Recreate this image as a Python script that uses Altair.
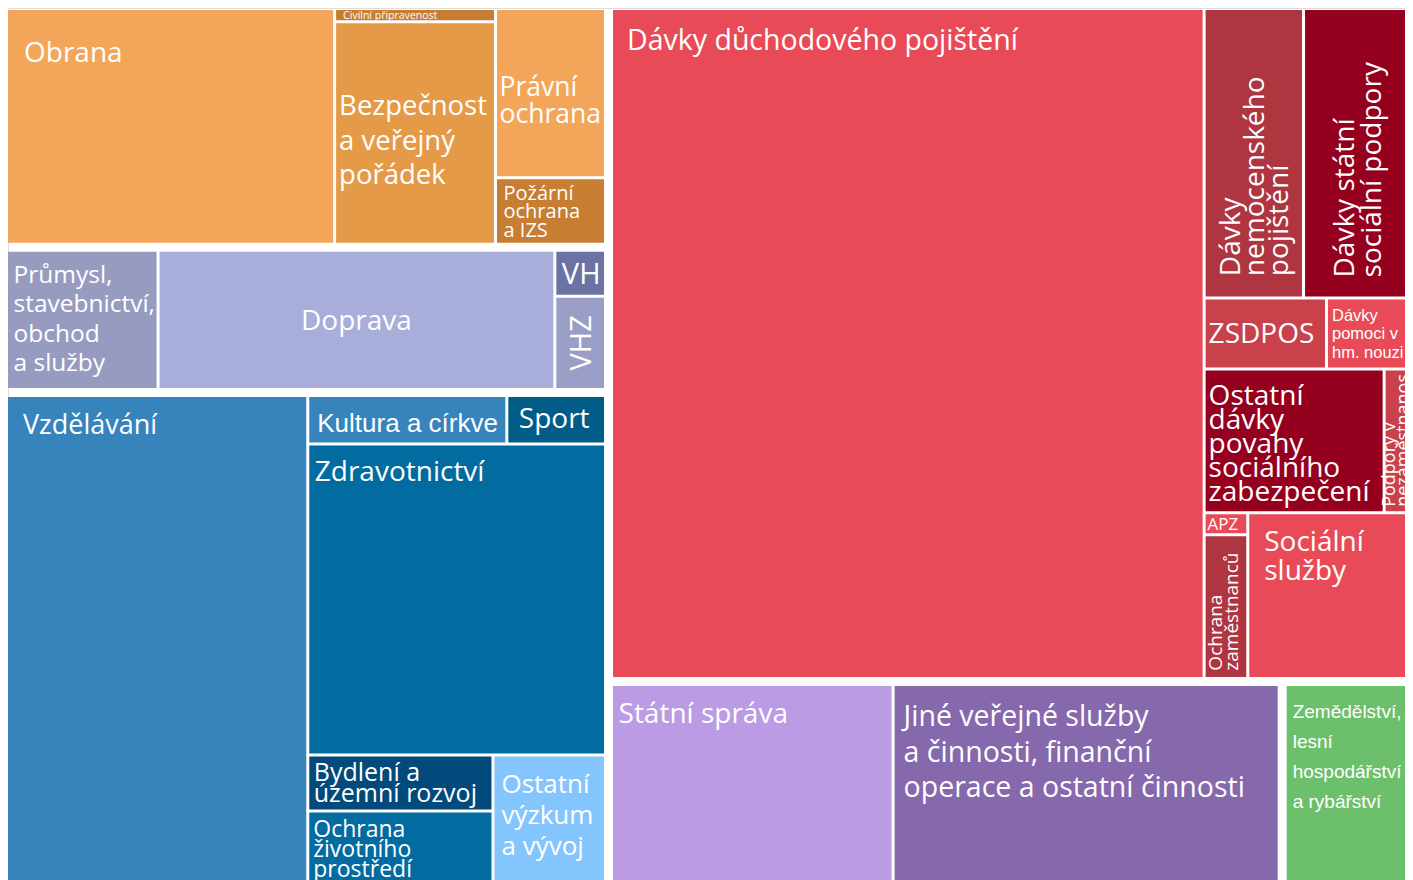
import altair as alt
import pandas as pd

# ---------------- data (bn CZK) ----------------
names = [
    "Obrana", "Civilní připravenost", "Bezpečnost a veřejný pořádek", "Právní ochrana",
    "Požární ochrana a IZS",
    "Průmysl, stavebnictví, obchod a služby", "Doprava", "VH", "VHZ",
    "Vzdělávání", "Kultura a církve", "Sport", "Zdravotnictví", "Bydlení a územní rozvoj",
    "Ochrana životního prostředí", "Ostatní výzkum a vývoj",
    "Dávky důchodového pojištění", "Dávky nemocenského pojištění",
    "Dávky státní sociální podpory", "ZSDPOS", "Dávky pomoci v hm. nouzi",
    "Ostatní dávky povahy sociálního zabezpečení", "Podpory v nezaměstnanosti", "APZ",
    "Ochrana zaměstnanců", "Sociální služby",
    "Státní správa", "Jiné veřejné služby a činnosti, finanční operace a ostatní činnosti",
    "Zemědělství, lesní hospodářství a rybářství",
]
values = [98.1, 2.7, 45.4, 23.6, 9.3,
          27.2, 71.2, 3.0, 6.1,
          189.0, 12.1, 6.0, 115.8, 13.0, 19.9, 20.0,
          493.9, 35.8, 40.5, 10.8, 7.9, 32.2, 5.7, 1.2, 7.8, 34.7,
          76.0, 104.2,
          36.6]
groups = (["G_bezpecnost"] * 5 + ["G_hospodarstvi"] * 4 + ["G_vzdelavani"] * 7 +
          ["G_socialni"] * 10 + ["G_sprava"] * 2 + ["G_zemedelstvi"])
labels = [
    "Obrana", "Civilní připravenost", "Bezpečnost\na veřejný\npořádek", "Právní\nochrana",
    "Požární\nochrana\na IZS",
    "Průmysl,\nstavebnictví,\nobchod\na služby", "Doprava", "VH", "VHZ",
    "Vzdělávání", "Kultura a církve", "Sport", "Zdravotnictví", "Bydlení a\núzemní rozvoj",
    "Ochrana\nživotního\nprostředí", "Ostatní\nvýzkum\na vývoj",
    "Dávky důchodového pojištění", "Dávky\nnemocenského\npojištění",
    "Dávky státní\nsociální podpory", "ZSDPOS", "Dávky\npomoci v\nhm. nouzi",
    "Ostatní\ndávky\npovahy\nsociálního\nzabezpečení", "Podpory v\nnezaměstnanosti", "APZ",
    "Ochrana\nzaměstnanců", "Sociální\nslužby",
    "Státní správa", "Jiné veřejné služby\na činnosti, finanční\noperace a ostatní činnosti",
    "Zemědělství,\nlesní\nhospodářství\na rybářství",
]
colors = [
    "#F3A65A", "#C77D32", "#E59A48", "#F3A65A", "#C77D32",
    "#989BC0", "#A9ADD9", "#6A73A3", "#9A9DC5",
    "#3784BD", "#3784BD", "#025C88", "#026BA0", "#024A7B", "#026BA0", "#84C5FE",
    "#E84B57", "#AF3540", "#96001F", "#C8414B", "#E84B57", "#96001F", "#C8414B",
    "#E84B57", "#AF3540", "#E84B57",
    "#BA9BE4", "#8668AC",
    "#6DC06B",
]

# ---------------- treemap structure (slice directions) ----------------
TOP = ("x", [("y", ["G_bezpecnost", "G_hospodarstvi", "G_vzdelavani"]),
             ("y", ["G_socialni", ("x", ["G_sprava", "G_zemedelstvi"])])])
GROUP_TREES = {
    "G_bezpecnost": ("x", [names[0], ("y", [names[1], names[2]]), ("y", [names[3], names[4]])]),
    "G_hospodarstvi": ("x", [names[5], names[6], ("y", [names[7], names[8]])]),
    "G_vzdelavani": ("x", [names[9], ("y", [("x", [names[10], names[11]]), names[12],
                                            ("x", [("y", [names[13], names[14]]), names[15]])])]),
    "G_socialni": ("x", [names[16], ("y", [("x", [names[17], names[18]]),
                                           ("x", [names[19], names[20]]),
                                           ("x", [names[21], names[22]]),
                                           ("x", [("y", [names[23], names[24]]), names[25]])])]),
    "G_sprava": ("x", [names[26], names[27]]),
    "G_zemedelstvi": names[28],
}

val_of = dict(zip(names, values))
for g in set(groups):
    val_of[g] = sum(v for v, gg in zip(values, groups) if gg == g)


def node_value(node):
    if isinstance(node, str):
        return val_of[node]
    return sum(node_value(k) for k in node[1])


def slice_layout(node, x0, y0, x1, y1, out):
    if isinstance(node, str):
        out[node] = (x0, y0, x1, y1)
        return
    d, kids = node
    tot = sum(node_value(k) for k in kids)
    pos = x0 if d == "x" else y0
    for k in kids:
        f = node_value(k) / tot
        if d == "x":
            w = (x1 - x0) * f
            slice_layout(k, pos, y0, pos + w, y1, out)
            pos += w
        else:
            h = (y1 - y0) * f
            slice_layout(k, x0, pos, x1, pos + h, out)
            pos += h


ORIGIN = 8.0
CANVAS = (3.5, 5.5, 1419.0, 900.0)   # page coordinates of the treemap area
GROUP_INSET = 3.0
LEAF_INSET = 1.5

grect = {}
slice_layout(TOP, *CANVAS, grect)
leaf = {}
for g, tree in GROUP_TREES.items():
    x0, y0, x1, y1 = grect[g]
    tmp = {}
    slice_layout(tree, x0 + GROUP_INSET, y0 + GROUP_INSET, x1 - GROUP_INSET, y1 - GROUP_INSET, tmp)
    for k, (a, b, c, d) in tmp.items():
        leaf[k] = (a + LEAF_INSET, b + LEAF_INSET, c - LEAF_INSET, d - LEAF_INSET)

# ---------------- label styles ----------------
OS = "Open Sans"
LS = "Liberation Sans"
# anchor, dx, dy, size, lineHeight, font, angle
style = {
    names[0]: ("tl", 16, 52, 28, 34, OS, 0),
    names[1]: ("tl", 7, 8.8, 10.5, 10, OS, 0),
    names[2]: ("tl", 3, 92, 27.5, 34.5, OS, 0),
    names[3]: ("tl", 2.5, 86, 26.5, 26.7, OS, 0),
    names[4]: ("tl", 6.5, 21, 20, 18.3, OS, 0),
    names[5]: ("tl", 5.5, 31, 24.5, 29.5, OS, 0),
    names[6]: ("c", 0, 10, 28, 30, OS, 0),
    names[7]: ("c", 1, 11, 29, 30, OS, 0),
    names[8]: ("c", 11, 0, 29, 30, OS, 270),
    names[9]: ("tl", 15, 37.3, 27, 30, OS, 0),
    names[10]: ("tl", 8, 34.5, 26, 30, LS, 0),
    names[11]: ("tl", 10.5, 31, 28, 30, OS, 0),
    names[12]: ("tl", 5.5, 35.7, 28, 30, OS, 0),
    names[13]: ("tl", 4.5, 24.7, 25, 21, OS, 0),
    names[14]: ("tl", 4, 24.3, 23, 20, OS, 0),
    names[15]: ("tl", 7, 36.3, 26, 31, OS, 0),
    names[16]: ("tl", 14, 40, 28.5, 30, OS, 0),
    names[17]: ("rot", 34, 20.3, 28, 24, OS, 270),
    names[18]: ("rot", 49, 19, 28, 27, OS, 270),
    names[19]: ("tl", 3, 43.3, 28, 30, OS, 0),
    names[20]: ("tl", 4, 21.7, 16.5, 18.3, LS, 0),
    names[21]: ("tl", 3, 34.3, 28, 24, OS, 0),
    names[22]: ("rot", 9.5, 4.3, 18, 13.5, OS, 270),
    names[23]: ("tl", 2, 15.7, 17, 18, OS, 0),
    names[24]: ("rot", 16, 6.3, 19, 16, OS, 270),
    names[25]: ("tl", 15, 37, 28, 29, OS, 0),
    names[26]: ("tl", 5.5, 36.6, 28, 30, OS, 0),
    names[27]: ("tl", 9, 40.3, 28.5, 35.5, OS, 0),
    names[28]: ("tl", 6, 32.3, 19, 29.8, LS, 0),
}

rect_rows, text_rows = [], []
for n, lab, col, g in zip(names, labels, colors, groups):
    x0, y0, x1, y1 = leaf[n]
    rect_rows.append({"name": n, "group": g, "value": val_of[n], "color": col,
                      "x0": x0 - ORIGIN, "x1": x1 - ORIGIN, "y0": y0 - ORIGIN, "y1": y1 - ORIGIN})
    anchor, dx, dy, fs, lh, font, ang = style[n]
    if anchor == "tl":
        tx, ty, al = x0 + dx, y0 + dy, "left"
        lim = x1 - tx + 2
    elif anchor == "rot":
        tx, ty, al = x0 + dx, y1 - dy, "left"
        lim = ty - y0 + 1
    else:
        tx, ty, al = (x0 + x1) / 2 + dx, (y0 + y1) / 2 + dy, "center"
        lim = 1000
    text_rows.append({"label": lab, "tx": tx - ORIGIN, "ty": ty - ORIGIN, "fs": fs, "lh": lh,
                      "font": font, "ang": ang, "al": al, "lim": lim})

rects = pd.DataFrame(rect_rows)
texts = pd.DataFrame(text_rows)

PW, PH = 1405, 885
xs = alt.Scale(domain=[0, PW], nice=False, zero=False)
ys = alt.Scale(domain=[0, PH], nice=False, zero=False, reverse=True)

rect_layer = alt.Chart(rects).mark_rect(strokeWidth=0).encode(
    x=alt.X("x0:Q", scale=xs, axis=None),
    x2="x1:Q",
    y=alt.Y("y0:Q", scale=ys, axis=None),
    y2="y1:Q",
    color=alt.Color("color:N", scale=None, legend=None),
    tooltip=["name:N", "value:Q"],
)

text_layer = alt.Chart(texts).mark_text(
    baseline="alphabetic",
    color="white",
    lineBreak="\n",
    align={"expr": "datum.al"},
    font={"expr": "datum.font"},
    lineHeight={"expr": "datum.lh"},
    limit={"expr": "datum.lim"},
    ellipsis="\u200b",
).encode(
    x=alt.X("tx:Q", scale=xs, axis=None),
    y=alt.Y("ty:Q", scale=ys, axis=None),
    text="label:N",
    size=alt.Size("fs:Q", scale=None, legend=None),
    angle=alt.Angle("ang:Q", scale=None),
)

# The treemap runs past the right edge of the window; a negative right padding
# trims the drawing to the page's content width so the browser does not shrink it.
chart = alt.layer(rect_layer, text_layer).properties(
    width=PW, height=PH,
    padding={"left": 0, "top": 0, "right": -8, "bottom": 0},
    autosize="none",
).configure_view(stroke=None).configure(background="white")

chart.save("out.html", embed_options={"renderer": "svg", "actions": False})
